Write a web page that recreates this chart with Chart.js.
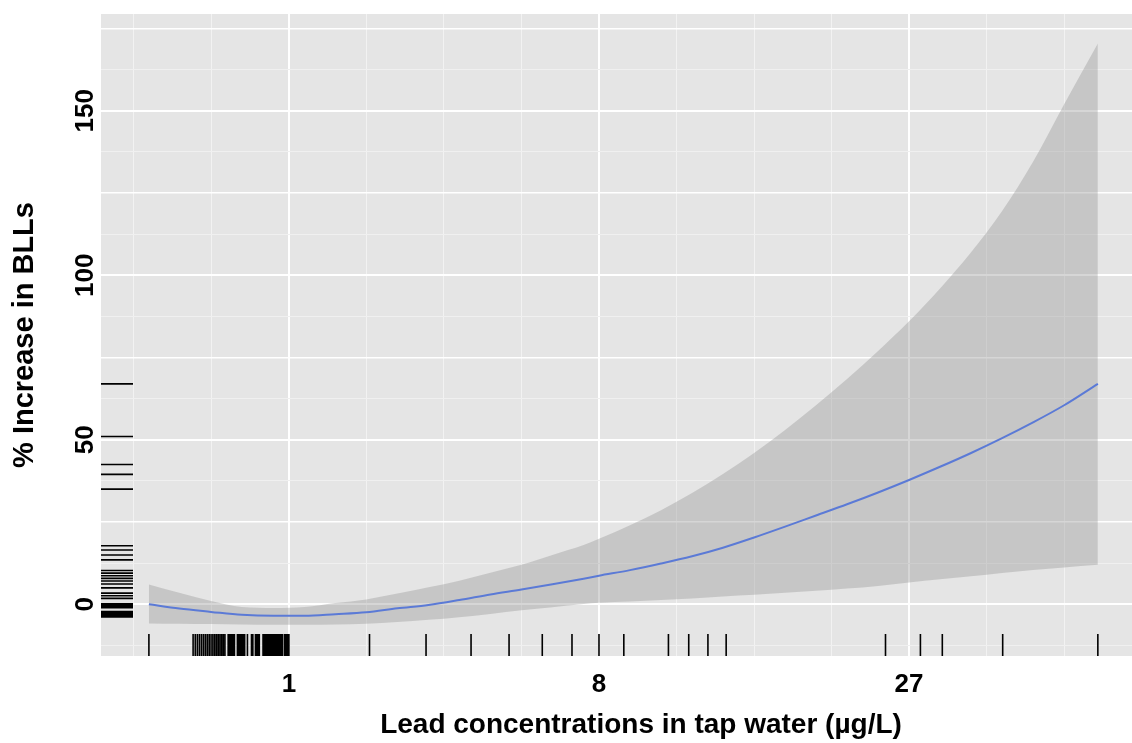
<!DOCTYPE html>
<html>
<head>
<meta charset="utf-8">
<script src="https://cdn.jsdelivr.net/npm/chart.js@4.4.1/dist/chart.umd.min.js"></script>
<style>
  html, body { margin: 0; padding: 0; overflow: hidden; background: #fff; }
  canvas { display: block; }
</style>
</head>
<body>
<canvas id="bllChart" width="1181" height="743"></canvas>
<script>
const fitConc = [0.165, 0.27, 0.42, 0.61, 0.86, 1.16, 1.52, 1.95, 2.46, 3.05, 3.72, 4.49, 5.36, 6.33, 7.42, 8,
    9.26, 10.65, 12.17, 13.82, 15.63, 17.58, 19.68, 21.95, 24.39, 27, 29.79, 32.77, 35.94, 39.3, 42.88, 47];
// % increase in BLLs: fitted line and confidence band
const fitPct = [0, -1.3, -2.3, -3.2, -3.5, -3.5, -3.0, -2.4, -1.2, -0.2, 1.3, 3.0, 4.5, 6.1, 7.8, 8.7,
    10.4, 12.4, 14.6, 17.2, 20.3, 23.6, 27.0, 30.4, 34.0, 37.8, 41.8, 46.0, 50.5, 55.3, 60.5, 67.0];
const upperPct = [6.0, 3.5, 1.0, -0.8, -1.1, -0.8, 0.4, 1.5, 3.3, 5.2, 7.2, 9.6, 12.0, 15.0, 18.0, 19.9,
    24.0, 28.6, 33.8, 39.6, 46.0, 53.0, 60.5, 68.5, 77.0, 86.0, 96.0, 107.0, 119.5, 134.5, 152.0, 170.4];
const lowerPct = [-5.8, -5.9, -6.0, -6.1, -6.2, -6.2, -6.1, -5.9, -5.4, -4.7, -3.9, -2.9, -1.8, -0.9, 0.1, 0.5,
    0.9, 1.3, 1.8, 2.4, 2.9, 3.5, 4.1, 4.8, 5.6, 6.6, 7.6, 8.5, 9.5, 10.4, 11.2, 12.0];

// rug marks
const rugConc = [0.165, 0.33, 0.34, 0.35, 0.36, 0.37, 0.38, 0.39, 0.40, 0.41, 0.42, 0.43, 0.44, 0.45, 0.46,
    0.47, 0.48, 0.49, 0.50, 0.52, 0.53, 0.54, 0.55, 0.56, 0.58, 0.59, 0.60, 0.61, 0.62, 0.63, 0.65, 0.68, 0.69,
    0.71, 0.72, 0.73, 0.74, 0.77, 0.78, 0.79, 0.80, 0.81, 0.82, 0.83, 0.84, 0.85, 0.86, 0.87, 0.88, 0.89, 0.90,
    0.91, 0.92, 0.93, 0.94, 0.96, 0.97, 0.98, 0.99, 1.0, 2, 3, 4, 5, 6, 7, 8, 9, 11, 12, 13, 14, 25, 28, 30, 36, 47];
const rugPct = [67, 51, 42.5, 39.5, 35, 17.8, 16.5, 15, 13.5, 10.3, 9.5, 8.7, 7.9, 7.1, 6.2, 5, 3.4, 2.6, 1.8,
    0.2, -0.2, -0.6, -1, -2.2, -2.6, -3, -3.4, -3.8];

// axes (x is on a cube-root scale)
const xTickConc = [1, 8, 27];
const xGridCbrt = [0.5, 0.75, 1, 1.25, 1.5, 1.75, 2, 2.25, 2.5, 2.75, 3, 3.25, 3.5, 3.75];
const yTickLabels = [0, 50, 100, 150];
const yGrid = [-12.5, 0, 12.5, 25, 37.5, 50, 62.5, 75, 87.5, 100, 112.5, 125, 137.5, 150, 162.5, 175];

const FONT = "'Liberation Sans', Arial, sans-serif";

const toPoints = ys => fitConc.map((c, i) => ({ x: Math.cbrt(c), y: ys[i] }));

const panelBg = {
    id: 'panelBg',
    beforeDraw(chart) {
        const { ctx, chartArea: a } = chart;
        ctx.save();
        ctx.fillStyle = '#E5E5E5';
        ctx.fillRect(a.left, a.top, a.right - a.left, a.bottom - a.top);
        ctx.restore();
    }
};

const rug = {
    id: 'rug',
    beforeDatasetsDraw(chart) {
        const { ctx, chartArea: a, scales: { x, y } } = chart;
        ctx.save();
        ctx.strokeStyle = '#000';
        ctx.lineWidth = 1.6;
        ctx.beginPath();
        rugConc.forEach(c => {
            const px = x.getPixelForValue(Math.cbrt(c));
            ctx.moveTo(px, a.bottom);
            ctx.lineTo(px, a.bottom - 22);
        });
        rugPct.forEach(v => {
            const py = y.getPixelForValue(v);
            ctx.moveTo(a.left, py);
            ctx.lineTo(a.left + 32, py);
        });
        ctx.stroke();
        ctx.restore();
    }
};

new Chart(document.getElementById('bllChart'), {
    type: 'line',
    data: {
        datasets: [
            {
                data: toPoints(upperPct),
                fill: '+1',
                backgroundColor: 'rgba(153, 153, 153, 0.4)',
                borderWidth: 0,
                pointRadius: 0
            },
            {
                data: toPoints(lowerPct),
                fill: false,
                borderWidth: 0,
                pointRadius: 0
            },
            {
                data: toPoints(fitPct),
                fill: false,
                borderColor: '#3366FF',
                borderWidth: 2,
                pointRadius: 0
            }
        ]
    },
    options: {
        responsive: false,
        animation: false,
        devicePixelRatio: 1,
        cubicInterpolationMode: 'monotone',
        layout: { padding: { top: 14, right: 0, bottom: 0, left: 0 } },
        plugins: { legend: { display: false }, tooltip: { enabled: false } },
        scales: {
            x: {
                type: 'linear',
                min: 0.394,
                max: 3.877,
                afterBuildTicks: s => { s.ticks = xGridCbrt.map(v => ({ value: v })); },
                afterFit: s => { s.height = 87; },
                border: { display: false },
                grid: {
                    drawTicks: false,
                    color: c => Number.isInteger(c.tick.value) ? '#FFFFFF' : '#F2F2F2',
                    lineWidth: c => Number.isInteger(c.tick.value) ? 2 : 1
                },
                ticks: {
                    autoSkip: false,
                    maxRotation: 0,
                    padding: 13,
                    color: '#000',
                    font: { family: FONT, size: 26, weight: 'bold' },
                    callback: v => {
                        const t = xTickConc.find(k => Math.abs(Math.cbrt(k) - v) < 1e-6);
                        return t === undefined ? '' : String(t);
                    }
                },
                title: {
                    display: true,
                    text: 'Lead concentrations in tap water (\u00b5g/L)',
                    color: '#000',
                    font: { family: FONT, size: 28, weight: 'bold', lineHeight: 1 },
                    padding: { top: 0, bottom: 4 }
                }
            },
            y: {
                min: -15.7,
                max: 179.4,
                afterBuildTicks: s => { s.ticks = yGrid.map(v => ({ value: v })); },
                afterFit: s => { s.width = 101; },
                border: { display: false },
                grid: {
                    drawTicks: false,
                    color: c => c.tick.value % 25 === 0 ? '#FFFFFF' : '#F0F0F0',
                    lineWidth: c => c.tick.value % 50 === 0 ? 2 : (c.tick.value % 25 === 0 ? 1.5 : 1)
                },
                ticks: {
                    autoSkip: false,
                    minRotation: 90,
                    maxRotation: 90,
                    crossAlign: 'center',
                    padding: -7,
                    color: '#000',
                    font: { family: FONT, size: 26, weight: 'bold' },
                    callback: v => yTickLabels.includes(v) ? String(v) : ''
                },
                title: {
                    display: true,
                    text: '% Increase in BLLs',
                    color: '#000',
                    font: { family: FONT, size: 29, weight: 'bold', lineHeight: 1.2 },
                    padding: { top: 8, bottom: 0 }
                }
            }
        }
    },
    plugins: [panelBg, rug]
});
</script>
</body>
</html>
